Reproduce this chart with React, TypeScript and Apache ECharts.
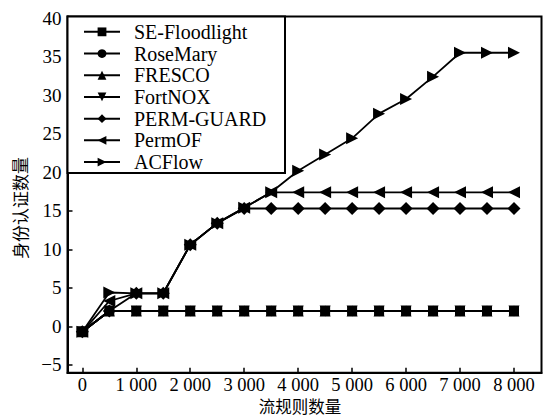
import React, { useEffect, useRef } from "react";
import * as echarts from "echarts";

const xValues = [0, 500, 1000, 1500, 2000, 2500, 3000, 3500, 4000, 4500, 5000, 5500, 6000, 6500, 7000, 7500, 8000];
const seFloodlight = [-0.7, 2.0, 2.0, 2.0, 2.0, 2.0, 2.0, 2.0, 2.0, 2.0, 2.0, 2.0, 2.0, 2.0, 2.0, 2.0, 2.0];
const roseMary = [-0.7, 2.0, 2.0, 2.0, 2.0, 2.0, 2.0, 2.0, 2.0, 2.0, 2.0, 2.0, 2.0, 2.0, 2.0, 2.0, 2.0];
const fresco = [-0.7, 2.0, 2.0, 2.0, 2.0, 2.0, 2.0, 2.0, 2.0, 2.0, 2.0, 2.0, 2.0, 2.0, 2.0, 2.0, 2.0];
const fortNox = [-0.7, 2.0, 2.0, 2.0, 2.0, 2.0, 2.0, 2.0, 2.0, 2.0, 2.0, 2.0, 2.0, 2.0, 2.0, 2.0, 2.0];
const permGuard = [-0.7, 2.0, 4.3, 4.3, 10.6, 13.4, 15.3, 15.3, 15.3, 15.3, 15.3, 15.3, 15.3, 15.3, 15.3, 15.3, 15.3];
const permOF = [-0.7, 3.3, 4.3, 4.3, 10.6, 13.4, 15.4, 17.4, 17.4, 17.4, 17.4, 17.4, 17.4, 17.4, 17.4, 17.4, 17.4];
const acFlow = [-0.7, 4.4, 4.3, 4.3, 10.6, 13.4, 15.4, 17.4, 20.2, 22.3, 24.4, 27.6, 29.5, 32.4, 35.5, 35.5, 35.5];

const seriesNames = ["SE-Floodlight", "RoseMary", "FRESCO", "FortNOX", "PERM-GUARD", "PermOF", "ACFlow"];
const xTicks = [0, 1000, 2000, 3000, 4000, 5000, 6000, 7000, 8000];
const yTicks = [-5, 0, 5, 10, 15, 20, 25, 30, 35, 40];
const xTitle = "流规则数量";
const yTitle = "身份认证数量";

const serif = "'Liberation Serif', 'Times New Roman', serif";
const cjk = "'Noto Sans CJK SC', sans-serif";

export default function App() {
  const ref = useRef<HTMLDivElement>(null);
  useEffect(() => {
    if (!ref.current) return;
    const chart = echarts.init(ref.current, undefined, { renderer: "svg" });
    const allValues = [seFloodlight, roseMary, fresco, fortNox, permGuard, permOF, acFlow];
    const symbols: Array<[string, number, number]> = [
      ["rect", 0, 10],
      ["circle", 0, 10],
      ["triangle", 0, 11],
      ["triangle", 180, 11],
      ["diamond", 0, 13],
      ["triangle", 90, 12],
      ["triangle", -90, 12],
    ];
    const series = seriesNames.map((name, i) => ({
      name,
      type: "line",
      data: xValues.map((x, j) => [x, allValues[i][j]]),
      symbol: symbols[i][0],
      symbolRotate: symbols[i][1],
      symbolSize: symbols[i][2],
      showAllSymbol: true,
      lineStyle: { color: "#000", width: 1.8 },
      itemStyle: { color: "#000" },
      z: 2 + i,
    }));
    const fmtNum = (v: number) =>
      String(v).replace(/\B(?=(\d{3})+(?!\d))/g, " ").replace("-", "−");
    chart.setOption({
      animation: false,
      backgroundColor: "#fff",
      grid: {
        left: 67.5,
        top: 16.5,
        right: 5.5,
        bottom: 44.3,
        show: true,
        borderColor: "#000",
        borderWidth: 2,
        containLabel: false,
      },
      xAxis: {
        type: "value",
        min: -275,
        max: 8510,
        splitLine: { show: false },
        axisLine: { onZero: false, lineStyle: { color: "#000", width: 2 } },
        axisTick: { inside: true, length: 5, customValues: xTicks, lineStyle: { color: "#000", width: 1.5 } },
        axisLabel: {
          customValues: xTicks,
          formatter: fmtNum,
          color: "#000",
          fontFamily: serif,
          fontSize: 18.5,
          lineHeight: 18,
          margin: 3,
        },
      },
      yAxis: {
        type: "value",
        min: -6,
        max: 40.2,
        splitLine: { show: false },
        axisLine: { onZero: false, lineStyle: { color: "#000", width: 2 } },
        axisTick: { inside: true, length: 5, customValues: yTicks, lineStyle: { color: "#000", width: 1.5 } },
        axisLabel: {
          customValues: yTicks,
          formatter: fmtNum,
          color: "#000",
          fontFamily: serif,
          fontSize: 19,
          margin: 6,
        },
      },
      legend: {
        orient: "vertical",
        left: 83,
        top: 21,
        padding: 0,
        itemGap: 0,
        itemWidth: 36,
        itemHeight: 11,
        data: seriesNames,
        textStyle: {
          fontFamily: serif,
          fontSize: 20,
          color: "#000",
          lineHeight: 21.7,
          padding: [0, 0, 0, 9],
        },
      },
      graphic: [
        {
          type: "rect",
          shape: { x: 67.5, y: 16.5, width: 217.5, height: 156.5 },
          style: { fill: "#fff", stroke: "#000", lineWidth: 2 },
          z: 1,
        },
        {
          type: "text",
          x: 19,
          y: 208,
          rotation: Math.PI / 2,
          style: {
            text: yTitle,
            fontSize: 17,
            fontFamily: cjk,
            fill: "#000000",
            opacity: 1,
            align: "center",
            verticalAlign: "middle",
          },
        },
        {
          type: "text",
          x: 300,
          y: 406,
          style: {
            text: xTitle,
            fontSize: 16.5,
            lineHeight: 16,
            fontFamily: cjk,
            fill: "#000000",
            align: "center",
            verticalAlign: "middle",
          },
        },
      ],
      series,
    });
    return () => chart.dispose();
  }, []);
  return <div ref={ref} style={{ position: "fixed", left: 0, top: 0, width: 547, height: 417 }} />;
}
